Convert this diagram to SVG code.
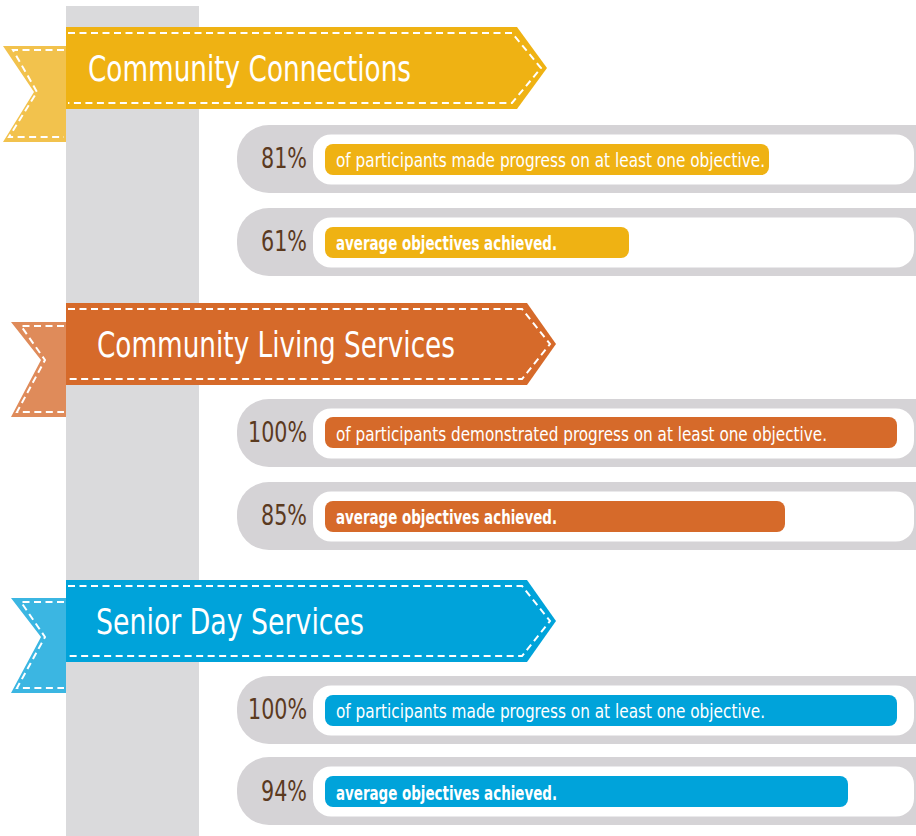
<svg xmlns="http://www.w3.org/2000/svg" width="916" height="836" viewBox="0 0 916 836">
<style>
.t{font-family:"Liberation Sans Narrow","DejaVu Sans Condensed","Liberation Sans",sans-serif;}
.title{font-size:36px;fill:#fff;}
.dash{fill:none;stroke:#fff;stroke-width:2;stroke-dasharray:7 4.5;}
.pill{fill:#D5D3D6;}
.inner{fill:#fff;}
.pct{font-size:29px;fill:#5B3A1F;text-anchor:end;}
.lbl{font-size:20px;fill:#fff;}
.bold{font-weight:bold;}
.y{fill:#EFB213;} .yt{fill:#F2C24D;}
.o{fill:#D66A2A;} .ot{fill:#DF8B5A;}
.b{fill:#00A3DA;} .bt{fill:#3BB6E2;}
</style>
<rect x="0" y="0" width="916" height="836" fill="#fff"/>
<rect id="spine" x="66" y="6" width="133" height="830" fill="#DADADC"/>

<g id="banner-community-connections">
<polygon class="yt" points="3,46 66,46 66,142 3,142 34,92"/>
<path class="dash" d="M64,50 L13,50 L37,92 L9,137 L64,137"/>
<polygon class="y" points="66,27 517,27 547,68 517,109 66,109"/>
<path class="dash" d="M68,33 L512,33 L541,68 L512,103 L68,103"/>
<text class="t title" x="88" y="81" textLength="323" lengthAdjust="spacingAndGlyphs">Community Connections</text>
</g>

<g id="cc-row1">
<rect class="pill" x="237" y="125" width="720" height="68" rx="32"/>
<rect class="inner" x="313" y="134.5" width="601" height="50" rx="18"/>
<rect class="y" x="325" y="144" width="444" height="31" rx="8"/>
<text class="t pct" x="307" y="168" textLength="46" lengthAdjust="spacingAndGlyphs">81%</text>
<text class="t lbl" x="336" y="167" textLength="429" lengthAdjust="spacingAndGlyphs">of participants made progress on at least one objective.</text>
</g>
<g id="cc-row2">
<rect class="pill" x="237" y="208" width="720" height="68" rx="32"/>
<rect class="inner" x="313" y="217.5" width="601" height="50" rx="18"/>
<rect class="y" x="325" y="227" width="304" height="31" rx="8"/>
<text class="t pct" x="307" y="251" textLength="46" lengthAdjust="spacingAndGlyphs">61%</text>
<text class="t lbl bold" x="336" y="250" textLength="221" lengthAdjust="spacingAndGlyphs">average objectives achieved.</text>
</g>

<g id="banner-community-living">
<polygon class="ot" points="11,322 66,322 66,417 11,417 41,360"/>
<path class="dash" d="M64,326 L21,326 L45,360 L17,412 L64,412"/>
<polygon class="o" points="66,303 527,303 556,344 527,385 66,385"/>
<path class="dash" d="M68,309 L522,309 L550,344 L522,379 L68,379"/>
<text class="t title" x="97" y="357" textLength="358" lengthAdjust="spacingAndGlyphs">Community Living Services</text>
</g>

<g id="cl-row1">
<rect class="pill" x="237" y="399" width="720" height="68" rx="32"/>
<rect class="inner" x="313" y="408.5" width="601" height="50" rx="18"/>
<rect class="o" x="325" y="417" width="572" height="31" rx="8"/>
<text class="t pct" x="307" y="442" textLength="59" lengthAdjust="spacingAndGlyphs">100%</text>
<text class="t lbl" x="336" y="441" textLength="491" lengthAdjust="spacingAndGlyphs">of participants demonstrated progress on at least one objective.</text>
</g>
<g id="cl-row2">
<rect class="pill" x="237" y="482" width="720" height="68" rx="32"/>
<rect class="inner" x="313" y="491.5" width="601" height="50" rx="18"/>
<rect class="o" x="325" y="501" width="460" height="31" rx="8"/>
<text class="t pct" x="307" y="525" textLength="46" lengthAdjust="spacingAndGlyphs">85%</text>
<text class="t lbl bold" x="336" y="524" textLength="221" lengthAdjust="spacingAndGlyphs">average objectives achieved.</text>
</g>

<g id="banner-senior-day">
<polygon class="bt" points="11,598 66,598 66,693 11,693 41,637"/>
<path class="dash" d="M64,602 L21,602 L45,637 L17,688 L64,688"/>
<polygon class="b" points="66,580 527,580 556,621 527,662 66,662"/>
<path class="dash" d="M68,586 L522,586 L550,621 L522,656 L68,656"/>
<text class="t title" x="96" y="634" textLength="268" lengthAdjust="spacingAndGlyphs">Senior Day Services</text>
</g>

<g id="sd-row1">
<rect class="pill" x="237" y="676" width="720" height="68" rx="32"/>
<rect class="inner" x="313" y="685.5" width="601" height="50" rx="18"/>
<rect class="b" x="325" y="695" width="572" height="31" rx="8"/>
<text class="t pct" x="307" y="719" textLength="59" lengthAdjust="spacingAndGlyphs">100%</text>
<text class="t lbl" x="336" y="718" textLength="429" lengthAdjust="spacingAndGlyphs">of participants made progress on at least one objective.</text>
</g>
<g id="sd-row2">
<rect class="pill" x="237" y="757" width="720" height="68" rx="32"/>
<rect class="inner" x="313" y="766.5" width="601" height="50" rx="18"/>
<rect class="b" x="325" y="776" width="523" height="31" rx="8"/>
<text class="t pct" x="307" y="801" textLength="46" lengthAdjust="spacingAndGlyphs">94%</text>
<text class="t lbl bold" x="336" y="800" textLength="221" lengthAdjust="spacingAndGlyphs">average objectives achieved.</text>
</g>

<g id="connectors"></g>
</svg>
